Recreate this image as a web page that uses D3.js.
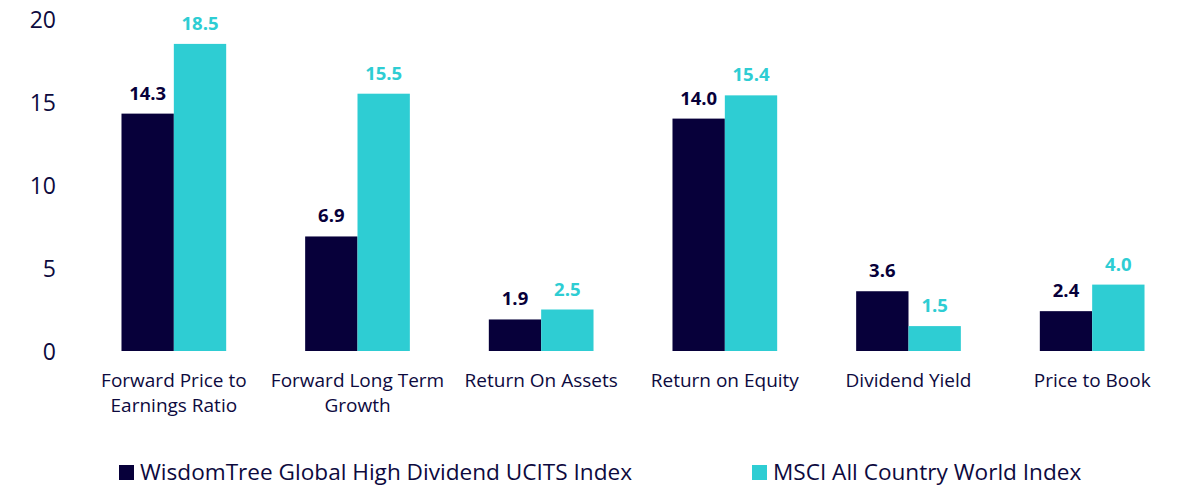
<!DOCTYPE html>
<html>
<head>
<meta charset="utf-8">
<script src="https://cdnjs.cloudflare.com/ajax/libs/d3/7.8.5/d3.min.js"></script>
<style>
  html, body { margin: 0; padding: 0; background: #fff; }
  svg { display: block; font-family: "Open Sans", sans-serif; }
</style>
</head>
<body>
<div id="chart"></div>
<script>
// data
var categories = [
    ['Forward Price to', 'Earnings Ratio'],
    ['Forward Long Term', 'Growth'],
    ['Return On Assets'],
    ['Return on Equity'],
    ['Dividend Yield'],
    ['Price to Book']
];
var seriesNames = ['WisdomTree Global High Dividend UCITS Index', 'MSCI All Country World Index'];
var wisdomTree = [14.3, 6.9, 1.9, 14.0, 3.6, 2.4];
var msciAcwi = [18.5, 15.5, 2.5, 15.4, 1.5, 4.0];
var yTicks = [0, 5, 10, 15, 20];

var colors = ['#07003a', '#2ecdd3'];
var textColor = '#0d0a3e';
var width = 1200, height = 490;

var svg = d3.select('#chart').append('svg')
    .attr('width', width)
    .attr('height', height);

var keys = categories.map(function(c){ return c.join(' '); });
var series = [wisdomTree, msciAcwi];

var x = d3.scaleBand().domain(keys).range([82, 1184])
    .paddingInner(0.43).paddingOuter(0.215);
var x1 = d3.scaleBand().domain([0, 1]).range([0, x.bandwidth()]);
var y = d3.scaleLinear().domain([0, 20]).range([351, 19]);

// y axis (labels only)
var axisY = d3.axisLeft(y).tickValues(yTicks).tickSize(0).tickPadding(0);
var $axisY = svg.append('g').attr('transform', 'translate(56,0)').call(axisY);
$axisY.select('.domain').remove();
$axisY.selectAll('text')
    .attr('dy', '0.36em')
    .style('font-size', '23px')
    .style('font-family', '"Open Sans", sans-serif')
    .style('fill', textColor);

// bars
var groups = svg.append('g').selectAll('g')
    .data(keys)
    .enter().append('g')
    .attr('transform', function(d){ return 'translate(' + x(d) + ',0)'; });

groups.each(function(k, i){
    var g = d3.select(this);
    for (var s = 0; s < series.length; s++) {
        var v = series[s][i];
        g.append('rect')
            .attr('x', x1(s))
            .attr('y', y(v))
            .attr('width', x1.bandwidth())
            .attr('height', y(0) - y(v))
            .style('fill', colors[s]);
        g.append('text')
            .attr('x', x1(s) + x1.bandwidth() / 2)
            .attr('y', y(v) - 14)
            .attr('text-anchor', 'middle')
            .style('font-size', '18.5px')
            .style('font-weight', 'bold')
            .style('fill', colors[s])
            .text(v.toFixed(1));
    }
});

// category labels
var axisX = d3.axisBottom(x).tickSize(0).tickFormat('');
var $axisX = svg.append('g').attr('transform', 'translate(0,' + y(0) + ')').call(axisX);
$axisX.select('.domain').remove();
$axisX.selectAll('.tick').each(function(d, i){
    var t = d3.select(this).append('text')
        .attr('text-anchor', 'middle')
        .style('font-size', '19px')
        .style('font-family', '"Open Sans", sans-serif')
        .style('fill', textColor);
    categories[i].forEach(function(line, j){
        t.append('tspan').attr('x', 0).attr('y', 36 + j * 25).text(line);
    });
});

// legend
var legendX = [119, 752];
var legend = svg.append('g').selectAll('g')
    .data(seriesNames)
    .enter().append('g')
    .attr('transform', function(d, i){ return 'translate(' + legendX[i] + ',465)'; });
legend.append('rect')
    .attr('width', 15).attr('height', 15)
    .style('fill', function(d, i){ return colors[i]; });
legend.append('text')
    .attr('x', 21).attr('y', 15)
    .style('font-size', '22.6px')
    .style('fill', textColor)
    .text(function(d){ return d; });
</script>
</body>
</html>
